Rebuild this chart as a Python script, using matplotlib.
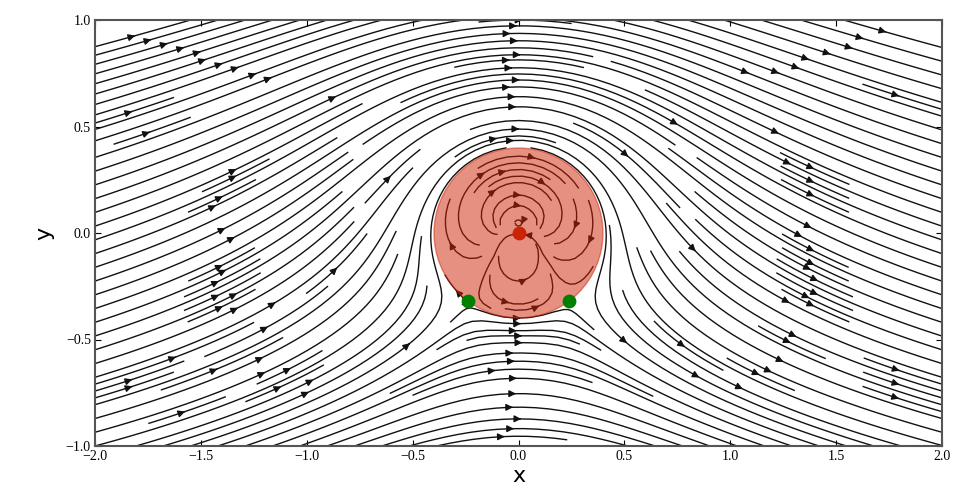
import numpy as np
import matplotlib
matplotlib.use("Agg")
import matplotlib.pyplot as plt

# Flow parameters (freestream + doublet + vortex: rotating cylinder)
u_inf = 1.0
kappa = 1.0
gamma = 4.0
x_doublet, y_doublet = 0.0, 0.0
x_vortex, y_vortex = 0.0, 0.0

# Grid / axes
N = 50
x_start, x_end = -2.0, 2.0
y_start, y_end = -1.0, 1.0
x_ticks = [-2.0, -1.5, -1.0, -0.5, 0.0, 0.5, 1.0, 1.5, 2.0]
y_ticks = [-1.0, -0.5, 0.0, 0.5, 1.0]

x = np.linspace(x_start, x_end, N)
y = np.linspace(y_start, y_end, N)
X, Y = np.meshgrid(x, y)

r2d = (X - x_doublet)**2 + (Y - y_doublet)**2
u_d = -kappa / (2*np.pi) * ((X - x_doublet)**2 - (Y - y_doublet)**2) / r2d**2
v_d = -kappa / (2*np.pi) * 2*(X - x_doublet)*(Y - y_doublet) / r2d**2
r2v = (X - x_vortex)**2 + (Y - y_vortex)**2
u_v = gamma / (2*np.pi) * (Y - y_vortex) / r2v
v_v = -gamma / (2*np.pi) * (X - x_vortex) / r2v
u = u_inf + u_d + u_v
v = v_d + v_v

R = np.sqrt(kappa / (2*np.pi*u_inf))
theta = np.arcsin(-gamma / (4*np.pi*u_inf*R))
x_st1, y_st1 = R*np.cos(theta), R*np.sin(theta)
x_st2, y_st2 = -R*np.cos(theta), R*np.sin(theta)

fig = plt.figure(figsize=(9.62, 4.97), dpi=100)
ax = fig.add_axes([95/962, 1-446/497, 847/962, 426/497])
ax.streamplot(X, Y, u, v, density=2.1, linewidth=1, arrowsize=1,
              arrowstyle='-|>', color='#111111')
circle = plt.Circle((0.0, 0.0), radius=R, color='#CD2305', alpha=0.5, zorder=3)
ax.add_patch(circle)
ax.scatter([x_vortex], [y_vortex], color='#CD2305', s=80, marker='o', zorder=4)
ax.scatter([x_st1, x_st2], [y_st1, y_st2], color='g', s=80, marker='o', zorder=4)
ax.set_xlim(x_start, x_end)
ax.set_ylim(y_start, y_end)
ax.set_xticks(x_ticks)
ax.set_yticks(y_ticks)
ax.set_xticklabels([f"{t:.1f}".replace('-', '\u2212') for t in x_ticks],
                   family='Liberation Serif', fontsize=10)
ax.set_yticklabels([f"{t:.1f}".replace('-', '\u2212') for t in y_ticks],
                   family='Liberation Serif', fontsize=10)
ax.tick_params(direction='in', top=True, right=True, length=4, pad=3)
for s in ax.spines.values():
    s.set_color('#555555')
    s.set_linewidth(1.5)
ax.set_xlabel('x', fontsize=16, labelpad=2)
ax.set_ylabel('y', fontsize=16, labelpad=8)
fig.savefig('out.png', dpi=100)
